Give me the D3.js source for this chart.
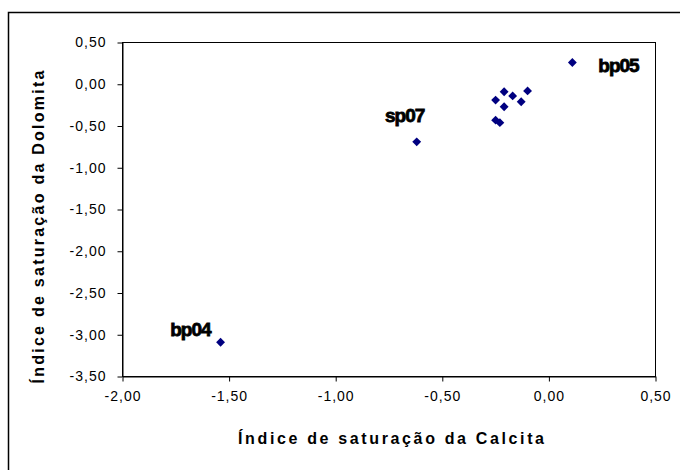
<!DOCTYPE html>
<html>
<head>
<meta charset="utf-8">
<script src="https://cdn.jsdelivr.net/npm/d3@7"></script>
<style>
  html, body { margin: 0; padding: 0; background: #fff; }
  svg { display: block; }
  text { font-family: "Liberation Sans", Arial, sans-serif; }
</style>
</head>
<body>
<svg id="chart" width="680" height="470"></svg>
<script>
// Saturation indices: calcite (x) vs dolomite (y)
const calcite  = [0.11, -0.21, -0.10, -0.17, -0.25, -0.13, -0.21, -0.25, -0.23, -0.62, -1.54];
const dolomite = [0.26, -0.09, -0.08, -0.14, -0.19, -0.21, -0.27, -0.43, -0.46, -0.69, -3.09];
const sampleNames = ["bp05", "", "", "", "", "", "", "", "", "sp07", "bp04"];

const xTicks = [-2.0, -1.5, -1.0, -0.5, 0.0, 0.5];
const yTicks = [0.5, 0.0, -0.5, -1.0, -1.5, -2.0, -2.5, -3.0, -3.5];

const xTitle = "Índice de saturação da Calcita";
const yTitle = "Índice de saturação da Dolomita";

const points = calcite.map((c, i) => ({ x: c, y: dolomite[i], name: sampleNames[i] }));

const svg = d3.select("#chart");
const plot = { left: 122.5, right: 655.5, top: 42.5, bottom: 376.5 };

const x = d3.scaleLinear().domain([-2.0, 0.5]).range([plot.left, plot.right]);
const y = d3.scaleLinear().domain([-3.5, 0.5]).range([plot.bottom, plot.top]);

const fmt = v => d3.format(".2f")(v).replace(".", ",").replace("−", "-");

// outer chart frame
svg.append("rect")
  .attr("x", 8.5).attr("y", 12.5)
  .attr("width", 720).attr("height", 500)
  .attr("fill", "none").attr("stroke", "#000").attr("stroke-width", 1.5);

// plot area frame
svg.append("rect")
  .attr("x", plot.left).attr("y", plot.top)
  .attr("width", plot.right - plot.left).attr("height", plot.bottom - plot.top)
  .attr("fill", "none").attr("stroke", "#000").attr("stroke-width", 1);

// axes
const xAxis = d3.axisBottom(x).tickValues(xTicks).tickFormat(fmt).tickSizeInner(5).tickSizeOuter(0).tickPadding(10);
const yAxis = d3.axisLeft(y).tickValues(yTicks).tickFormat(fmt).tickSizeInner(5).tickSizeOuter(0).tickPadding(11);

const gx = svg.append("g").attr("transform", `translate(0,${plot.bottom})`).call(xAxis);
const gy = svg.append("g").attr("transform", `translate(${plot.left},0)`).call(yAxis);

[gx, gy].forEach(g => {
  g.select(".domain").attr("stroke", "#000");
  g.selectAll(".tick line").attr("stroke", "#000");
  g.selectAll(".tick text")
    .attr("fill", "#000")
    .style("font-family", "'Liberation Sans', Arial, sans-serif")
    .style("font-size", "14px")
    .style("letter-spacing", "1px");
});

// axis titles
svg.append("text")
  .attr("x", 391).attr("y", 444)
  .attr("text-anchor", "middle")
  .attr("textLength", 306).attr("lengthAdjust", "spacing")
  .style("font-size", "16px").style("font-weight", "bold")
  .text(xTitle);

svg.append("text")
  .attr("transform", "translate(44,227) rotate(-90)")
  .attr("text-anchor", "middle")
  .attr("textLength", 313).attr("lengthAdjust", "spacing")
  .style("font-size", "16px").style("font-weight", "bold")
  .text(yTitle);

// markers
const diamond = d3.symbol().type(d3.symbolDiamond2).size(50);
svg.append("g").selectAll("path")
  .data(points)
  .join("path")
  .attr("d", diamond)
  .attr("transform", d => `translate(${x(d.x)},${y(d.y)})`)
  .attr("fill", "#000080");

// sample labels
const labelOffset = { bp05: [26, 9, "start"], sp07: [-12, -20, "middle"], bp04: [-10, -6, "end"] };
svg.append("g").selectAll("text")
  .data(points.filter(d => d.name))
  .join("text")
  .attr("x", d => x(d.x) + labelOffset[d.name][0])
  .attr("y", d => y(d.y) + labelOffset[d.name][1])
  .attr("text-anchor", d => labelOffset[d.name][2])
  .style("font-size", "19px").style("font-weight", "bold")
  .style("letter-spacing", "-1px")
  .attr("stroke", "#000").attr("stroke-width", 0.8)
  .text(d => d.name);
</script>
</body>
</html>
